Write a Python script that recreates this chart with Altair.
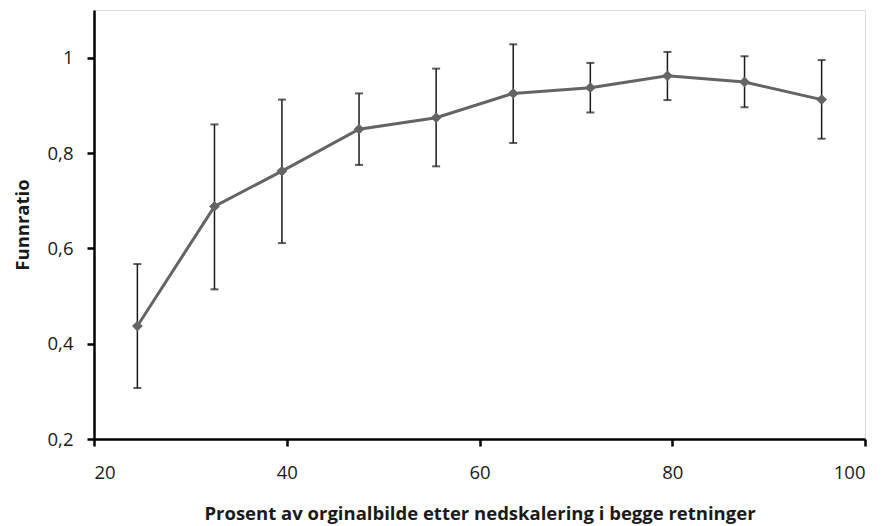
import altair as alt
import pandas as pd

x_vals = [24.5, 32.5, 39.5, 47.5, 55.5, 63.5, 71.5, 79.5, 87.5, 95.5]
y_vals = [0.437, 0.688, 0.762, 0.850, 0.874, 0.925, 0.937, 0.962, 0.949, 0.912]
y_low = [0.307, 0.514, 0.611, 0.775, 0.772, 0.821, 0.885, 0.911, 0.896, 0.830]
y_high = [0.567, 0.860, 0.912, 0.925, 0.977, 1.028, 0.989, 1.012, 1.003, 0.995]

df = pd.DataFrame({"x": x_vals, "y": y_vals, "lo": y_low, "hi": y_high})

FONT = "Open Sans, sans-serif"

xs = alt.Scale(domain=[20, 100], nice=False, zero=False)
ys = alt.Scale(domain=[0.2, 1.1], nice=False, zero=False)

x_axis = alt.Axis(
    values=[20, 40, 60, 80, 100], title="Prosent av orginalbilde etter nedskalering i begge retninger",
    grid=False, domainColor="black", domainWidth=2.5, tickColor="black", tickWidth=2.5, tickSize=7,
    labelFont=FONT, labelFontSize=18.5, labelColor="#1a1a1a", labelPadding=17,
    titleFont=FONT, titleFontSize=18.5, titleFontWeight="bold", titleColor="#1a1a1a", titlePadding=23,
)
y_axis = alt.Axis(
    values=[0.2, 0.4, 0.6, 0.8, 1.0], title="Funnratio",
    labelExpr="replace(format(datum.value, '~g'), '.', ',')",
    grid=False, domainColor="black", domainWidth=2.5, tickColor="black", tickWidth=2.5, tickSize=7,
    labelFont=FONT, labelFontSize=18.5, labelColor="#1a1a1a", labelPadding=14,
    titleFont=FONT, titleFontSize=18.5, titleFontWeight="bold", titleColor="#1a1a1a", titlePadding=15,
)

base = alt.Chart(df)

err = base.mark_rule(color="#1a1a1a", strokeWidth=1.5).encode(
    x=alt.X("x:Q", scale=xs, axis=x_axis), y=alt.Y("lo:Q", scale=ys, axis=y_axis), y2="hi:Q"
)
cap_lo = base.mark_tick(color="#1a1a1a", thickness=2, size=8, orient="horizontal").encode(
    x=alt.X("x:Q", scale=xs), y=alt.Y("lo:Q", scale=ys)
)
cap_hi = base.mark_tick(color="#1a1a1a", thickness=2, size=8, orient="horizontal").encode(
    x=alt.X("x:Q", scale=xs), y=alt.Y("hi:Q", scale=ys)
)
line = base.mark_line(color="#646464", strokeWidth=3).encode(
    x=alt.X("x:Q", scale=xs), y=alt.Y("y:Q", scale=ys)
)
pts = base.mark_point(shape="diamond", filled=True, color="#646464", size=115, opacity=1).encode(
    x=alt.X("x:Q", scale=xs), y=alt.Y("y:Q", scale=ys)
)

chart = (err + cap_lo + cap_hi + line + pts).properties(
    width=771, height=429,
    autosize=alt.AutoSizeParams(type="none"),
    padding={"left": 94, "top": 10, "right": 22, "bottom": 87},
).configure_view(stroke=None).configure(background="white")

chart.save("out.html", embed_options={"renderer": "svg", "actions": False})
